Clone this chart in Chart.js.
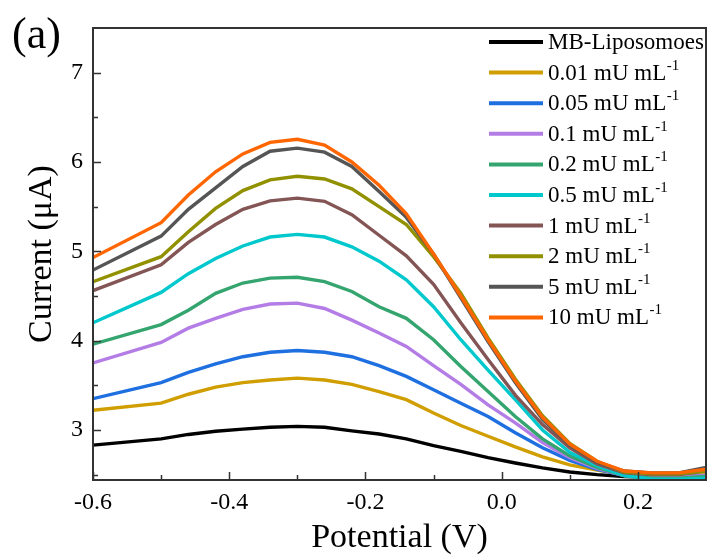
<!DOCTYPE html>
<html>
<head>
<meta charset="utf-8">
<script src="https://cdn.jsdelivr.net/npm/chart.js@4/dist/chart.umd.min.js"></script>
<style>
  html, body { margin: 0; padding: 0; background: #ffffff; }
  #wrap { width: 713px; height: 560px; }
</style>
</head>
<body>
<div id="wrap"><canvas id="c" width="713" height="560"></canvas></div>
<script>
// ---- Data ----
const potentials = [-0.6, -0.5, -0.46, -0.42, -0.38, -0.34, -0.30, -0.26, -0.22, -0.18, -0.14, -0.10, -0.06, -0.02, 0.02, 0.06, 0.10, 0.14, 0.18, 0.22, 0.26, 0.30];

const seriesLabels = ["MB-Liposomoes", "0.01 mU mL⁻¹", "0.05 mU mL⁻¹", "0.1 mU mL⁻¹", "0.2 mU mL⁻¹", "0.5 mU mL⁻¹", "1 mU mL⁻¹", "2 mU mL⁻¹", "5 mU mL⁻¹", "10 mU mL⁻¹"];

const mbLiposomes = [2.83, 2.90, 2.95, 2.985, 3.01, 3.03, 3.04, 3.03, 2.99, 2.955, 2.90, 2.825, 2.76, 2.69, 2.63, 2.575, 2.53, 2.50, 2.48, 2.47, 2.47, 2.48];
const c001 = [3.22, 3.30, 3.40, 3.48, 3.53, 3.56, 3.58, 3.56, 3.51, 3.43, 3.34, 3.19, 3.05, 2.93, 2.81, 2.70, 2.61, 2.55, 2.50, 2.48, 2.48, 2.50];
const c005 = [3.35, 3.53, 3.645, 3.74, 3.82, 3.87, 3.89, 3.87, 3.82, 3.72, 3.60, 3.45, 3.30, 3.15, 2.97, 2.80, 2.66, 2.56, 2.49, 2.47, 2.47, 2.49];
const c01 = [3.75, 3.98, 4.14, 4.25, 4.35, 4.41, 4.42, 4.36, 4.23, 4.085, 3.935, 3.72, 3.51, 3.28, 3.08, 2.86, 2.69, 2.57, 2.49, 2.47, 2.47, 2.49];
const c02 = [3.96, 4.18, 4.34, 4.53, 4.645, 4.70, 4.71, 4.66, 4.55, 4.38, 4.25, 4.01, 3.71, 3.43, 3.15, 2.90, 2.71, 2.58, 2.49, 2.46, 2.46, 2.48];
const c05 = [4.20, 4.54, 4.75, 4.92, 5.06, 5.16, 5.19, 5.16, 5.05, 4.89, 4.68, 4.38, 4.01, 3.67, 3.34, 3.00, 2.75, 2.60, 2.49, 2.45, 2.45, 2.46];
const c1 = [4.56, 4.85, 5.10, 5.30, 5.47, 5.565, 5.595, 5.56, 5.41, 5.18, 4.95, 4.63, 4.20, 3.79, 3.39, 3.06, 2.80, 2.62, 2.52, 2.50, 2.50, 2.54];
const c2 = [4.66, 4.94, 5.22, 5.48, 5.68, 5.80, 5.84, 5.81, 5.70, 5.50, 5.30, 4.94, 4.53, 4.03, 3.57, 3.16, 2.85, 2.65, 2.53, 2.51, 2.51, 2.54];
const c5 = [4.79, 5.17, 5.47, 5.71, 5.95, 6.12, 6.155, 6.11, 5.95, 5.67, 5.38, 4.97, 4.48, 3.99, 3.53, 3.12, 2.83, 2.64, 2.54, 2.52, 2.52, 2.58];
const c10 = [4.93, 5.32, 5.63, 5.89, 6.09, 6.22, 6.255, 6.19, 6.00, 5.74, 5.42, 4.97, 4.50, 4.01, 3.55, 3.14, 2.84, 2.65, 2.54, 2.52, 2.52, 2.56];

const allSeries = [mbLiposomes, c001, c005, c01, c02, c05, c1, c2, c5, c10];
const seriesColors = ["#000000", "#D09E00", "#1E6FE0", "#B47DE6", "#34A56E", "#00C8CD", "#845555", "#919100", "#555555", "#FF6600"];

const xTickValues = [-0.6, -0.4, -0.2, 0.0, 0.2];
const xMinorValues = [-0.5, -0.3, -0.1, 0.1];
const yTickValues = [3, 4, 5, 6, 7];
const yMinorValues = [2.5, 3.5, 4.5, 5.5, 6.5];

const SERIF = "'Liberation Serif', 'DejaVu Serif', serif";

const datasets = allSeries.map((vals, i) => ({
  label: seriesLabels[i],
  data: potentials.map((x, k) => ({ x: x, y: vals[k] })),
  borderColor: seriesColors[i],
  backgroundColor: seriesColors[i],
  borderWidth: 3.4,
  pointRadius: 0,
  tension: 0,
  fill: false,
  order: allSeries.length - i
}));

const framePlugin = {
  id: 'framePlugin',
  afterDraw(chart) {
    const ctx = chart.ctx;
    const a = chart.chartArea;
    const xs = chart.scales.x, ys = chart.scales.y;
    ctx.save();
    ctx.strokeStyle = '#333333';
    ctx.lineWidth = 2;
    ctx.strokeRect(a.left, a.top, a.right - a.left, a.bottom - a.top);
    ctx.lineWidth = 1.5;
    ctx.beginPath();
    xTickValues.forEach(v => { const p = Math.round(xs.getPixelForValue(v)) + 0.5; ctx.moveTo(p, a.bottom); ctx.lineTo(p, a.bottom - 8); });
    xMinorValues.forEach(v => { const p = Math.round(xs.getPixelForValue(v)) + 0.5; ctx.moveTo(p, a.bottom); ctx.lineTo(p, a.bottom - 5); });
    yTickValues.forEach(v => { const p = Math.round(ys.getPixelForValue(v)) + 0.5; ctx.moveTo(a.left, p); ctx.lineTo(a.left + 8, p); });
    yMinorValues.forEach(v => { const p = Math.round(ys.getPixelForValue(v)) + 0.5; ctx.moveTo(a.left, p); ctx.lineTo(a.left + 5, p); });
    ctx.stroke();

    // panel label
    ctx.fillStyle = '#000000';
    ctx.font = '44px ' + SERIF;
    ctx.textAlign = 'left';
    ctx.textBaseline = 'alphabetic';
    ctx.fillText('(a)', 12, 48);

    // legend
    const lx0 = 489, lx1 = 543, tx = 548, y0 = 42, dy = 30.6;
    chart.data.datasets.forEach((ds, i) => {
      const y = y0 + i * dy;
      ctx.strokeStyle = ds.borderColor;
      ctx.lineWidth = 4;
      ctx.beginPath();
      ctx.moveTo(lx0, y); ctx.lineTo(lx1, y);
      ctx.stroke();
      ctx.fillStyle = '#000000';
      ctx.textBaseline = 'middle';
      let label = ds.label;
      let sup = null;
      if (label.endsWith('⁻¹')) { sup = '-1'; label = label.slice(0, -2); }
      ctx.font = '23px ' + SERIF;
      ctx.fillText(label, tx, y + 1);
      if (sup) {
        const w = ctx.measureText(label).width;
        ctx.font = '15px ' + SERIF;
        ctx.fillText(sup, tx + w + 0.5, y - 7);
      }
    });
    ctx.restore();
  }
};

new Chart(document.getElementById('c'), {
  type: 'line',
  data: { datasets: datasets },
  plugins: [framePlugin],
  options: {
    responsive: false,
    animation: false,
    devicePixelRatio: 1,
    layout: { padding: { top: 28, right: 7, left: 0, bottom: 0 } },
    plugins: { legend: { display: false }, tooltip: { enabled: false } },
    scales: {
      x: {
        type: 'linear',
        min: -0.6, max: 0.3,
        afterFit(s) { s.height = 80; },
        afterBuildTicks(s) { s.ticks = xTickValues.map(v => ({ value: v })); },
        grid: { display: false, drawTicks: false },
        border: { display: false },
        ticks: {
          color: '#000000',
          font: { family: SERIF, size: 24 },
          padding: 8,
          maxRotation: 0,
          callback: v => Number(v).toFixed(1)
        },
        title: {
          display: true,
          text: 'Potential (V)',
          color: '#000000',
          font: { family: SERIF, size: 34 },
          padding: { top: 0, bottom: 2 }
        }
      },
      y: {
        type: 'linear',
        min: 2.44, max: 7.5,
        afterFit(s) { s.width = 93; },
        afterBuildTicks(s) { s.ticks = yTickValues.map(v => ({ value: v })); },
        grid: { display: false, drawTicks: false },
        border: { display: false },
        ticks: {
          color: '#000000',
          font: { family: SERIF, size: 24 },
          padding: 10,
          callback: v => String(v)
        },
        title: {
          display: true,
          text: 'Current (μA)',
          color: '#000000',
          font: { family: SERIF, size: 34 },
          padding: { top: 22, bottom: 0 }
        }
      }
    }
  }
});
</script>
</body>
</html>
